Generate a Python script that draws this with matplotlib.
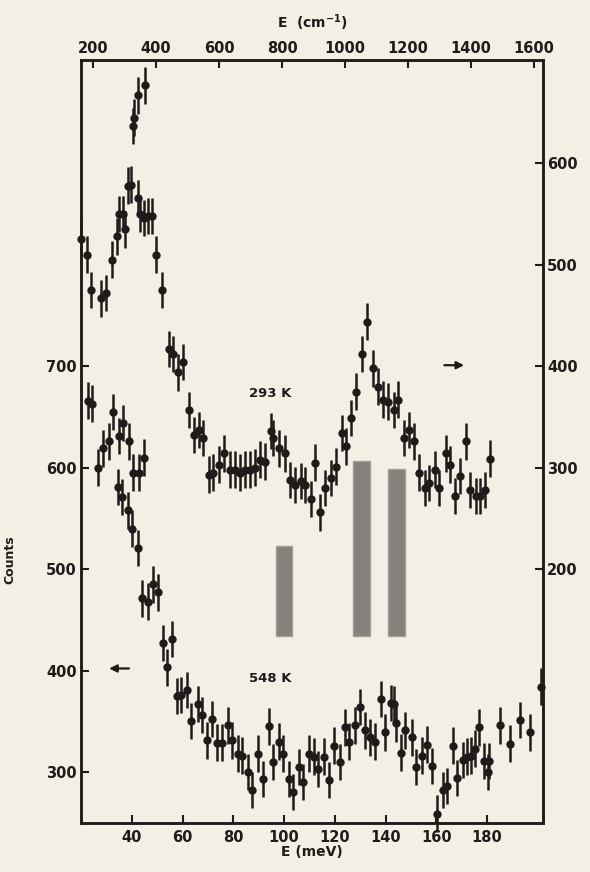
#!/usr/bin/python3
import matplotlib
matplotlib.use("Agg")
import matplotlib.pyplot as plt

# 293 K spectrum (right axis), E in meV
e_293 = [20.0, 22.4, 23.9, 27.9, 30.0, 32.2, 34.2, 35.1, 36.4, 37.5, 38.5, 39.7,
         40.5, 40.8, 42.3, 42.6, 43.4, 44.7, 45.1, 46.2, 48.0, 49.7, 51.9,
         54.5, 56.3, 58.2, 60.2, 62.4, 64.5, 66.4, 67.9, 70.6, 72.1,
         74.3, 76.4, 78.6, 80.6, 82.8, 84.6, 86.5, 88.5, 90.7, 92.5,
         94.7, 95.7, 98.0, 100.2, 102.4, 104.4, 106.6, 108.4, 110.5, 112.3,
         114.0, 116.3, 118.5, 120.4, 122.7, 124.2, 126.3, 128.3, 130.7, 132.8,
         134.9, 136.8, 138.9, 140.8, 143.1, 145.0, 147.2, 149.3, 151.3, 153.0,
         155.4, 157.2, 159.4, 160.9, 163.6, 165.4, 167.3, 169.4, 171.6, 173.3,
         175.4, 177.0, 179.2, 181.3]
c_293 = [525, 510, 475, 467, 472, 505, 528, 550, 550, 535, 578, 579,
         637, 645, 566, 667, 550, 546, 677, 548, 548, 510, 475,
         417, 412, 394, 404, 357, 332, 337, 329, 293, 295,
         303, 314, 298, 298, 295, 298, 298, 300, 308, 306,
         336, 329, 319, 314, 288, 283, 287, 283, 269, 305,
         256, 280, 290, 301, 334, 321, 349, 375, 412, 444,
         398, 380, 367, 365, 357, 367, 329, 337, 326, 295,
         280, 285, 298, 280, 314, 303, 272, 292, 326, 278,
         272, 272, 278, 309]

# 548 K spectrum (left axis)
e_548 = [22.9, 24.5, 26.8, 28.5, 31.0, 32.5, 34.7, 35.1, 36.0, 36.7, 38.6, 39.0,
         40.0, 40.6, 42.6, 43.0, 44.1, 44.8, 46.2, 48.5, 50.4, 52.2, 54.0, 56.0,
         57.8, 59.4, 61.7, 63.5, 66.0, 67.7, 69.5, 71.6, 73.6, 75.6,
         77.9, 79.5, 81.7, 83.4, 85.8, 87.5, 89.7, 91.5, 94.0, 95.6,
         98.0, 99.6, 101.8, 103.5, 105.8, 107.5, 109.8, 111.6, 113.3, 115.6,
         117.8, 119.6, 122.0, 123.9, 125.4, 127.8, 130.0, 131.8, 134.0, 135.8,
         138.0, 139.8, 142.1, 143.1, 143.9, 146.2, 147.8, 150.3, 152.1, 154.3,
         156.2, 158.4, 160.3, 162.4, 164.2, 166.7, 168.3, 170.3, 172.2, 173.8,
         175.2, 176.8, 178.8, 180.4, 180.7, 184.9, 188.9, 193.0, 197.0, 201.2]
c_548 = [666, 663, 600, 619, 626, 655, 581, 631, 571, 644, 558, 626,
         540, 595, 521, 595, 471, 610, 468, 485, 477, 427, 403, 431,
         375, 376, 381, 350, 367, 356, 331, 352, 329, 329,
         346, 331, 318, 316, 300, 282, 318, 293, 345, 310,
         330, 318, 293, 280, 305, 290, 318, 315, 303, 315,
         292, 326, 310, 344, 330, 346, 364, 341, 334, 330,
         372, 339, 368, 367, 348, 319, 341, 334, 305, 316,
         327, 306, 259, 282, 286, 326, 294, 312, 315, 316,
         323, 344, 311, 300, 311, 346, 328, 351, 339, 384]

err_293 = 18
err_548 = 18

# calculated mode positions (meV) and bar heights (left-axis counts)
bar_centers = [100.1, 130.5, 144.3]
bar_tops = [523, 607, 599]
bar_base = 434
bar_width = 6.4

left_ticks = [300, 400, 500, 600, 700]
right_ticks = [200, 300, 400, 500, 600]
bottom_ticks = [40, 60, 80, 100, 120, 140, 160, 180]
top_ticks = [200, 400, 600, 800, 1000, 1200, 1400, 1600]

MEV_TO_CM = 8.0655
bg = "#f3efe5"
ink = "#211a1a"

plt.rcParams["font.family"] = ["DejaVu Sans"]
plt.rcParams["font.weight"] = "bold"
plt.rcParams["mathtext.default"] = "bf"

fig = plt.figure(figsize=(5.9, 8.72), dpi=100, facecolor=bg)
ax = fig.add_axes([0.1373, 0.0566, 0.7831, 0.8747], facecolor=bg)
ax2 = ax.twinx()

ax.set_xlim(20, 202)
ax.set_ylim(250, 1002)
ax2.set_ylim(-50, 702)

# shaded bars
ax.bar(bar_centers, [t - bar_base for t in bar_tops], bottom=bar_base,
       width=bar_width, color="#85817c", edgecolor="#a19d98", linewidth=1.0,
       zorder=1)

ax.errorbar(e_548, c_548, yerr=err_548, fmt="o", ms=5, color=ink, ecolor=ink,
            elinewidth=1.8, capsize=0, clip_on=False, zorder=3)
ax2.errorbar(e_293, c_293, yerr=err_293, fmt="o", ms=5, color=ink, ecolor=ink,
             elinewidth=1.8, capsize=0, clip_on=False, zorder=3)

ax.text(94.5, 673, "293 K", ha="center", va="center", fontsize=9.5,
        fontweight="bold", color=ink)
ax.text(94.5, 392, "548 K", ha="center", va="center", fontsize=9.5,
        fontweight="bold", color=ink)
ax.annotate("", xy=(172, 701), xytext=(162, 701),
            arrowprops=dict(arrowstyle="-|>", lw=1.6, color=ink, mutation_scale=11))
ax.annotate("", xy=(30, 402), xytext=(40, 402),
            arrowprops=dict(arrowstyle="-|>", lw=1.6, color=ink, mutation_scale=11))

ax.set_xticks(bottom_ticks)
ax.set_yticks(left_ticks)
ax2.set_yticks(right_ticks)
for a in (ax, ax2):
    a.tick_params(direction="in", length=6, width=1.5, labelsize=10.5,
                  colors=ink, pad=3)
    for s in a.spines.values():
        s.set_linewidth(1.8)
        s.set_color(ink)
ax.tick_params(axis="x", pad=5)

top = ax.secondary_xaxis("top", functions=(lambda e: e * MEV_TO_CM,
                                             lambda w: w / MEV_TO_CM))
top.set_xticks(top_ticks)
top.tick_params(direction="in", length=6, width=1.5, labelsize=10.5,
                colors=ink, pad=3)
top.set_xlabel("E  (cm$^{-1}$)", fontsize=10, fontweight="bold", color=ink,
               labelpad=9)

for lab in (ax.get_xticklabels() + ax.get_yticklabels() +
            ax2.get_yticklabels() + top.get_xticklabels()):
    lab.set_fontweight("bold")

ax.set_xlabel("E (meV)", fontsize=10, fontweight="bold", color=ink, labelpad=0)
ax.set_ylabel("Counts", fontsize=9, fontweight="bold", color=ink)
ax.yaxis.set_label_coords(-0.14, 0.345)

fig.savefig("out.png", dpi=100, facecolor=bg)
